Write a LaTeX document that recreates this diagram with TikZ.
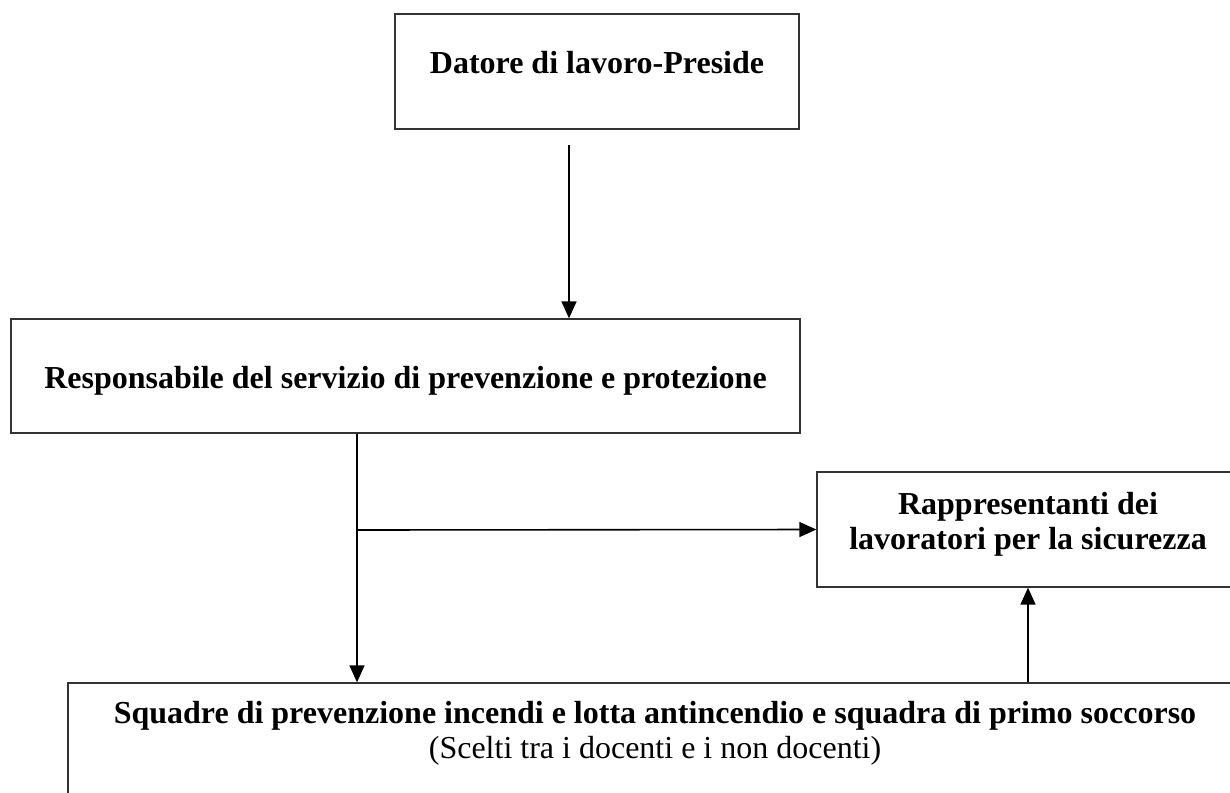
\documentclass[tikz,border=0pt]{standalone}
\usepackage{fontspec}
\setmainfont{Liberation Serif}
\usetikzlibrary{arrows.meta}
\begin{document}
\begin{tikzpicture}[x=1pt,y=-1pt,
  box/.style={draw=black!80, line width=1.3pt, rectangle, inner sep=0pt},
  lbl/.style={font=\bfseries\fontsize{32}{35}\selectfont, anchor=base, inner sep=0pt, align=center},
  arr/.style={line width=1.6pt, -{Triangle[length=17pt,width=15pt]}}
]
\useasboundingbox (0,0) rectangle (1230,792);
\clip (0,0) rectangle (1230,792);
\fill[white] (0,0) rectangle (1230,792);
% boxes
\node[box, minimum width=404pt, minimum height=115pt] (b1) at (597,71.5) {};
\node[box, minimum width=789pt, minimum height=114pt] (b2) at (405.5,376) {};
\node[box, minimum width=422pt, minimum height=115pt] (b4) at (1028,529.5) {};
\node[box, minimum width=1174pt, minimum height=167pt] (b3) at (655,766.5) {};
% texts (base anchor = baseline of the last line)
\node[lbl] (t1) at (597,74) {Datore di lavoro-Preside};
\node[lbl] (t2) at (405.5,388) {Responsabile del servizio di prevenzione e protezione};
\node[lbl] (t4) at (1028,549) {Rappresentanti dei\\lavoratori per la sicurezza};
\node[lbl] (t3) at (655,758) {Squadre di prevenzione incendi e lotta antincendio e squadra di primo soccorso\\{\mdseries (Scelti tra i docenti e i non docenti)}};
% connectors
\coordinate (a1) at (569,145);
\coordinate (j) at (357,530);
\draw[arr] (a1) -- (a1 |- b2.north);
\draw[arr] (b2.south -| j) -- (j |- b3.north);
\draw[arr] (j) -- (b4.west);
\draw[arr] (b3.north -| b4.south) -- (b4.south);
\end{tikzpicture}
\end{document}
